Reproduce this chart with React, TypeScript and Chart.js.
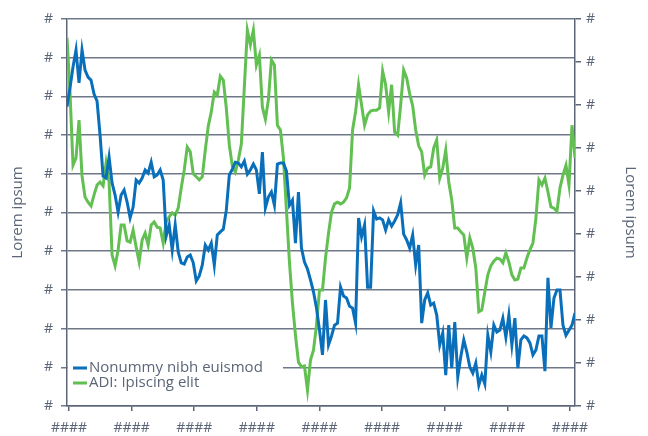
import React, { useEffect, useRef } from 'react';
import { Chart, registerables } from 'chart.js';

Chart.register(...registerables);

const blueName = 'Nonummy nibh euismod';
const greenName = 'ADI: Ipiscing elit';
const leftAxisTitle = 'Lorem ipsum';
const rightAxisTitle = 'Lorem ipsum';

const blueValues = [
  7.73, 8.22, 8.76, 9.2, 8.35, 9.2, 8.68, 8.5, 8.42, 8.06,
  7.88, 7.0, 5.94, 5.89, 6.43, 5.76, 5.45, 5.01, 5.45, 5.58,
  5.27, 4.86, 5.14, 5.84, 5.76, 5.89, 6.1, 6.02, 6.3, 5.92,
  5.97, 6.1, 5.84, 4.39, 4.68, 4.03, 4.68, 3.98, 3.7, 3.67,
  3.85, 3.9, 3.7, 3.23, 3.36, 3.64, 4.16, 4.03, 4.21, 3.64,
  4.42, 4.5, 4.57, 5.06, 5.97, 6.12, 6.3, 6.28, 6.18, 6.33,
  5.99, 6.1, 6.25, 6.1, 5.48, 6.56, 5.12, 5.4, 5.53, 5.19,
  6.25, 6.28, 6.28, 6.07, 5.19, 5.32, 4.21, 5.53, 4.08, 3.72,
  3.54, 3.26, 2.95, 2.53, 1.96, 1.32, 2.74, 1.58, 1.81, 2.09,
  2.14, 3.07, 2.84, 2.79, 2.58, 2.53, 2.14, 4.86, 4.37, 4.68,
  3.07, 3.07, 5.04, 4.83, 4.86, 4.81, 4.55, 4.81, 4.65, 4.78,
  4.94, 5.25, 4.44, 4.29, 4.08, 4.42, 3.64, 4.16, 2.14, 2.74,
  2.92, 2.61, 2.66, 2.35, 1.58, 1.89, 0.8, 2.09, 0.98, 2.17,
  0.75, 1.27, 1.71, 1.4, 1.01, 0.85, 1.11, 0.54, 0.8, 0.57,
  1.83, 1.4, 2.09, 1.91, 1.96, 2.27, 1.78, 2.35, 1.58, 2.27,
  0.98, 1.71, 1.81, 1.76, 1.63, 1.32, 1.45, 1.81, 1.81, 0.9,
  3.31, 2.02, 2.79, 3.0, 3.0, 2.09, 1.83, 1.96, 2.09, 2.4,
];

const greenValues = [
  8.56, 7.3, 5.6, 5.77, 6.65, 5.35, 4.86, 4.74, 4.65, 4.91,
  5.14, 5.21, 5.12, 5.65, 5.21, 3.51, 3.26, 3.63, 4.21, 4.21,
  3.84, 3.81, 4.09, 3.7, 3.35, 3.86, 4.02, 3.74, 4.21, 4.28,
  4.16, 4.14, 3.79, 4.28, 4.4, 4.49, 4.44, 4.6, 5.07, 5.49,
  6.02, 5.91, 5.4, 5.33, 5.26, 5.33, 5.95, 6.51, 6.84, 7.3,
  7.23, 7.67, 7.58, 6.93, 6.07, 5.58, 5.44, 5.72, 6.09, 7.42,
  8.74, 8.4, 8.74, 7.93, 8.16, 6.95, 6.67, 7.12, 8.05, 7.93,
  6.53, 6.42, 5.77, 4.56, 3.35, 2.4, 1.65, 1.02, 0.91, 0.93,
  0.37, 1.07, 1.3, 1.88, 2.7, 2.7, 3.44, 4.02, 4.51, 4.7,
  4.74, 4.7, 4.74, 4.84, 5.07, 6.42, 6.84, 7.47, 7.0, 6.53,
  6.77, 6.86, 6.88, 6.88, 6.93, 7.79, 7.47, 6.84, 7.47, 6.37,
  6.3, 7.0, 7.81, 7.63, 7.26, 6.98, 6.42, 6.05, 5.91, 5.37,
  5.53, 5.56, 6.0, 6.19, 5.3, 5.53, 5.95, 5.21, 4.79, 4.14,
  4.14, 4.05, 3.98, 3.44, 3.91, 3.67, 3.21, 2.19, 2.23, 2.65,
  3.05, 3.26, 3.37, 3.44, 3.42, 3.33, 3.56, 3.35, 3.05, 2.93,
  2.95, 3.21, 3.21, 3.44, 3.63, 3.79, 4.37, 5.26, 5.14, 5.3,
  4.98, 4.63, 4.6, 4.53, 5.07, 5.37, 5.6, 5.14, 6.53, 5.77,
];

const xTickLabels = ['####', '####', '####', '####', '####', '####', '####', '####', '####'];
const leftTickLabels = ['#', '#', '#', '#', '#', '#', '#', '#', '#', '#', '#'];
const rightTickLabels = ['#', '#', '#', '#', '#', '#', '#', '#', '#', '#'];

const BLUE = '#0a6fba';
const GREEN = '#62bf52';
const AXIS = '#5d6679';
const GRID = '#6f7889';
const TEXT = '#5b6578';
const FONT = "'Open Sans', 'DejaVu Sans', sans-serif";

const overlayPlugin = {
  id: 'overlay',
  beforeDatasetsDraw(chart: any) {
    const { ctx, chartArea } = chart;
    const l = chartArea.left;
    const b = chartArea.bottom;
    ctx.save();
    ctx.fillStyle = '#ffffff';
    ctx.fillRect(l + 1, b - 48, 215, 34);
    const items = [
      { label: blueName, color: BLUE, y: b - 38 },
      { label: greenName, color: GREEN, y: b - 23 },
    ];
    ctx.font = `15px ${FONT}`;
    ctx.textBaseline = 'middle';
    ctx.textAlign = 'left';
    for (const it of items) {
      ctx.strokeStyle = it.color;
      ctx.lineWidth = 3;
      ctx.beginPath();
      ctx.moveTo(l + 6, it.y);
      ctx.lineTo(l + 20, it.y);
      ctx.stroke();
      ctx.fillStyle = TEXT;
      ctx.fillText(it.label, l + 22, it.y);
    }
    ctx.restore();
  },
  afterDraw(chart: any) {
    const { ctx, chartArea } = chart;
    const cy = (chartArea.top + chartArea.bottom) / 2;
    ctx.save();
    ctx.font = `15px ${FONT}`;
    ctx.fillStyle = TEXT;
    ctx.textAlign = 'center';
    ctx.textBaseline = 'middle';
    ctx.translate(18, cy);
    ctx.rotate(-Math.PI / 2);
    ctx.fillText(leftAxisTitle, 0, 0);
    ctx.restore();
    ctx.save();
    ctx.font = `15px ${FONT}`;
    ctx.fillStyle = TEXT;
    ctx.textAlign = 'center';
    ctx.textBaseline = 'middle';
    ctx.translate(630, cy);
    ctx.rotate(Math.PI / 2);
    ctx.fillText(rightAxisTitle, 0, 0);
    ctx.restore();
  },
};

export default function App() {
  const ref = useRef<HTMLCanvasElement>(null);

  useEffect(() => {
    if (!ref.current) return;
    const labels = blueValues.map((_, i) => i);
    const n = blueValues.length - 1;
    const firstTick = 0.67;
    const tickGap = 20.83;
    const chart = new Chart(ref.current, {
      type: 'line',
      data: {
        labels,
        datasets: [
          {
            label: blueName,
            data: blueValues,
            borderColor: BLUE,
            borderWidth: 3,
            pointRadius: 0,
            tension: 0,
            yAxisID: 'y',
          },
          {
            label: greenName,
            data: greenValues,
            borderColor: GREEN,
            borderWidth: 3,
            pointRadius: 0,
            tension: 0,
            yAxisID: 'y2',
          },
        ],
      },
      options: {
        animation: false,
        responsive: false,
        maintainAspectRatio: false,
        layout: { padding: { top: 19, left: 0, right: 0, bottom: 0 } },
        plugins: {
          legend: { display: false },
          tooltip: { enabled: false },
        },
        scales: {
          x: {
            type: 'linear',
            min: 0,
            max: n,
            afterBuildTicks: (scale: any) => {
              scale.ticks = xTickLabels.map((_, k) => ({ value: firstTick + tickGap * k }));
            },
            afterFit: (scale: any) => {
              scale.height = 30;
            },
            grid: {
              drawOnChartArea: false,
              drawTicks: true,
              tickLength: 5,
              color: AXIS,
              lineWidth: 1.5,
            },
            border: { display: true, color: AXIS, width: 1.5 },
            ticks: {
              autoSkip: false,
              maxRotation: 0,
              padding: 9,
              color: TEXT,
              font: { family: FONT, size: 14 },
              callback: (_v: any, i: number) => xTickLabels[i],
            },
          },
          y: {
            type: 'linear',
            position: 'left',
            min: 0,
            max: 10,
            afterFit: (scale: any) => {
              scale.width = 67;
            },
            grid: {
              color: GRID,
              lineWidth: 1.5,
              tickLength: 6,
            },
            border: { display: true, color: AXIS, width: 1.5 },
            ticks: {
              stepSize: 1,
              padding: 8,
              color: TEXT,
              font: { family: FONT, size: 14 },
              callback: (_v: any, i: number) => leftTickLabels[i],
            },
          },
          y2: {
            type: 'linear',
            position: 'right',
            min: 0,
            max: 9,
            afterFit: (scale: any) => {
              scale.width = 73;
            },
            grid: {
              drawOnChartArea: false,
              color: AXIS,
              lineWidth: 1.5,
              tickLength: 6,
            },
            border: { display: true, color: AXIS, width: 1.5 },
            ticks: {
              stepSize: 1,
              padding: 5,
              color: TEXT,
              font: { family: FONT, size: 14 },
              callback: (_v: any, i: number) => rightTickLabels[i],
            },
          },
        },
      },
      plugins: [overlayPlugin],
    });
    return () => chart.destroy();
  }, []);

  return (
    <div style={{ position: 'fixed', left: 0, top: 0, width: 648, height: 436, background: '#fff' }}>
      <canvas ref={ref} width={648} height={436} style={{ width: 648, height: 436, display: 'block' }} />
    </div>
  );
}
